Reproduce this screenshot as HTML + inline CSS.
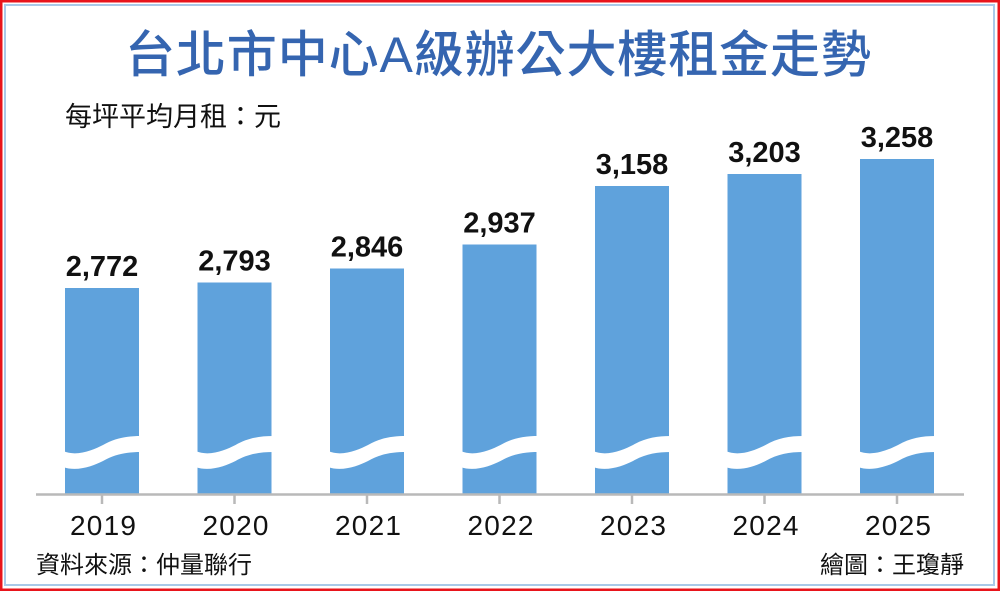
<!DOCTYPE html>
<html>
<head>
<meta charset="utf-8">
<style>
  html, body { margin: 0; padding: 0; background: #fff; }
  body { width: 1000px; height: 591px; overflow: hidden; }
  svg { display: block; }
  .cjk { font-family: "Liberation Sans", "Noto Sans CJK TC", "Noto Sans CJK SC", sans-serif; }
  .num { font-family: "Liberation Sans", sans-serif; font-weight: bold; }
  .yr { font-family: "Liberation Sans", sans-serif; }
</style>
</head>
<body>
<svg width="1000" height="591" viewBox="0 0 1000 591" xmlns="http://www.w3.org/2000/svg">
  <defs>
    <path id="wave" d="M-2,451 C12,457 28,450 38,445 C50,438 62,436 76,436 L76,452 C62,452 50,454 38,461 C28,466 12,472 -2,467 Z" fill="#fff"/>
  </defs>
  <!-- frame -->
  <rect x="0" y="0" width="1000" height="591" fill="#fff"/>
  <rect x="1" y="1" width="998" height="589" fill="none" stroke="#e8141b" stroke-width="3"/>
  <rect x="5" y="5" width="989" height="580" fill="none" stroke="#a9c9e8" stroke-width="2"/>

  <!-- title -->
  <text class="cjk" x="125" y="72" font-size="50" font-weight="500" letter-spacing="0.9" fill="#3565b0">台北市中心A級辦公大樓租金走勢</text>
  <!-- subtitle -->
  <text class="cjk" x="65" y="126" font-size="27" fill="#111">每坪平均月租：元</text>

  <!-- bars -->
  <g fill="#5fa2dc">
    <rect x="65" y="288" width="74" height="206"/>
    <rect x="197.5" y="282.5" width="74" height="211.5"/>
    <rect x="330" y="268.5" width="74" height="225.5"/>
    <rect x="462.5" y="244.5" width="74" height="249.5"/>
    <rect x="595" y="186" width="74" height="308"/>
    <rect x="727.5" y="174" width="74" height="320"/>
    <rect x="860" y="159" width="74" height="335"/>
  </g>

  <!-- wave breaks -->
  <use href="#wave" x="65"/>
  <use href="#wave" x="197.5"/>
  <use href="#wave" x="330"/>
  <use href="#wave" x="462.5"/>
  <use href="#wave" x="595"/>
  <use href="#wave" x="727.5"/>
  <use href="#wave" x="860"/>

  <!-- axis -->
  <line x1="36" y1="494.5" x2="964" y2="494.5" stroke="#b9b9b9" stroke-width="2.5"/>
  <g stroke="#b9b9b9" stroke-width="2.5">
    <line x1="102" y1="494" x2="102" y2="504"/>
    <line x1="234.5" y1="494" x2="234.5" y2="504"/>
    <line x1="367" y1="494" x2="367" y2="504"/>
    <line x1="499.5" y1="494" x2="499.5" y2="504"/>
    <line x1="632" y1="494" x2="632" y2="504"/>
    <line x1="764.5" y1="494" x2="764.5" y2="504"/>
    <line x1="897" y1="494" x2="897" y2="504"/>
  </g>

  <!-- value labels -->
  <g class="num" font-size="29" fill="#111" text-anchor="middle">
    <text x="102" y="276">2,772</text>
    <text x="234.5" y="270.5">2,793</text>
    <text x="367" y="256.5">2,846</text>
    <text x="499.5" y="232.5">2,937</text>
    <text x="632" y="174">3,158</text>
    <text x="764.5" y="162">3,203</text>
    <text x="897" y="147">3,258</text>
  </g>

  <!-- year labels -->
  <g class="yr" font-size="28" fill="#111" text-anchor="middle">
    <text x="103" y="535" textLength="66">2019</text>
    <text x="235.5" y="535" textLength="66">2020</text>
    <text x="368" y="535" textLength="66">2021</text>
    <text x="500.5" y="535" textLength="66">2022</text>
    <text x="633" y="535" textLength="66">2023</text>
    <text x="765.5" y="535" textLength="66">2024</text>
    <text x="898" y="535" textLength="66">2025</text>
  </g>

  <!-- footer -->
  <text class="cjk" x="36" y="573" font-size="24" fill="#111">資料來源：仲量聯行</text>
  <text class="cjk" x="964" y="573" font-size="24" fill="#111" text-anchor="end">繪圖：王瓊靜</text>
</svg>
</body>
</html>
